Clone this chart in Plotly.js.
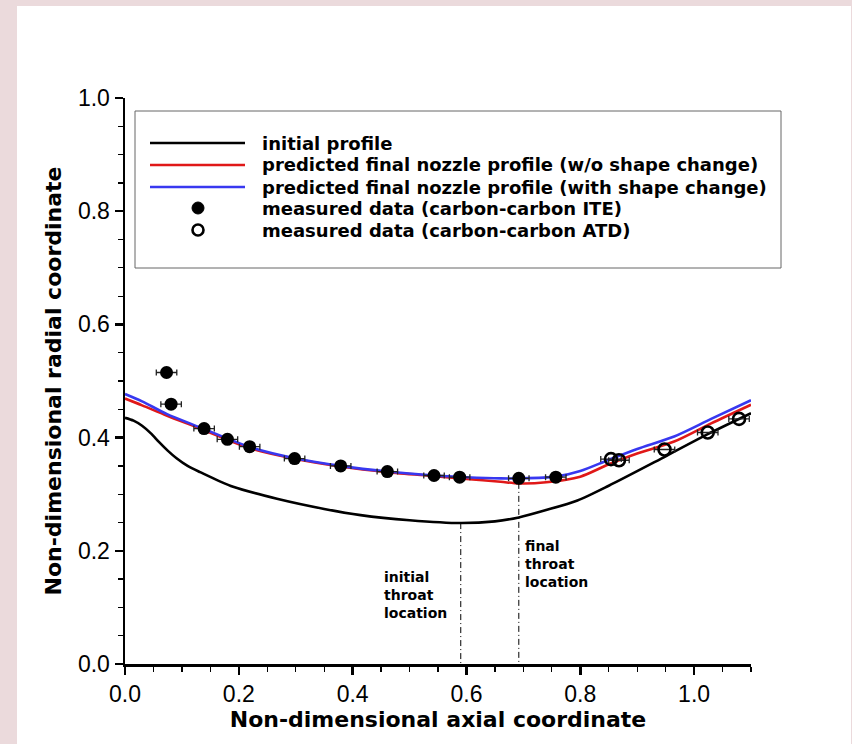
<!DOCTYPE html>
<html>
<head>
<meta charset="utf-8">
<script src="https://cdn.plot.ly/plotly-3.0.1.min.js"></script>
<style>html,body{margin:0;padding:0;}#chart{width:852px;height:744px;}</style>
</head>
<body>
<div id="chart"></div>
<script>
// ---- data ----
const initialX = [0.0, 0.015, 0.03, 0.045, 0.06, 0.075, 0.09, 0.11, 0.132, 0.19, 0.267, 0.35, 0.414, 0.5, 0.59, 0.65, 0.692, 0.74, 0.795, 0.85, 0.95, 1.024, 1.1];
const initialY = [0.435, 0.430, 0.421, 0.408, 0.392, 0.377, 0.364, 0.350, 0.339, 0.313, 0.292, 0.274, 0.263, 0.254, 0.249, 0.252, 0.259, 0.272, 0.289, 0.315, 0.367, 0.406, 0.443];

const noShapeX = [0.0, 0.03, 0.073, 0.132, 0.22, 0.296, 0.379, 0.461, 0.543, 0.6, 0.66, 0.692, 0.74, 0.8, 0.848, 0.9, 0.965, 1.03, 1.1];
const noShapeY = [0.469, 0.457, 0.439, 0.416, 0.381, 0.363, 0.349, 0.339, 0.332, 0.327, 0.322, 0.319, 0.321, 0.331, 0.352, 0.372, 0.393, 0.425, 0.458];

const shapeX = [0.0, 0.03, 0.073, 0.132, 0.22, 0.296, 0.379, 0.461, 0.543, 0.6, 0.66, 0.692, 0.757, 0.8, 0.848, 0.9, 0.965, 1.03, 1.1];
const shapeY = [0.477, 0.464, 0.442, 0.418, 0.383, 0.364, 0.350, 0.340, 0.333, 0.330, 0.328, 0.328, 0.331, 0.341, 0.360, 0.380, 0.402, 0.433, 0.466];

const iteX = [0.073, 0.081, 0.139, 0.180, 0.219, 0.298, 0.379, 0.461, 0.543, 0.588, 0.692, 0.757];
const iteY = [0.515, 0.459, 0.416, 0.397, 0.384, 0.363, 0.350, 0.340, 0.333, 0.330, 0.328, 0.330];
const iteErr = [0.018, 0.018, 0.018, 0.018, 0.018, 0.018, 0.018, 0.018, 0.018, 0.018, 0.018, 0.018];

const atdX = [0.854, 0.868, 0.948, 1.024, 1.079];
const atdY = [0.362, 0.360, 0.379, 0.409, 0.433];
const atdErr = [0.018, 0.018, 0.018, 0.018, 0.018];

const initialThroatX = [0.59, 0.59];
const initialThroatY = [0.249, 0.0];
const finalThroatX = [0.692, 0.692];
const finalThroatY = [0.320, 0.0];

const legendLabels = [
  "initial profile",
  "predicted final nozzle profile (w/o shape change)",
  "predicted final nozzle profile (with shape change)",
  "measured data (carbon-carbon ITE)",
  "measured data (carbon-carbon ATD)"
];
const xTickVals = [0, 0.2, 0.4, 0.6, 0.8, 1.0];
const yTickVals = [0, 0.2, 0.4, 0.6, 0.8, 1.0];

// ---- layout helpers (pixel -> paper) ----
const L = 125, R = 751, T = 98, B = 664;
const px = x => (x - L) / (R - L);
const py = y => (B - y) / (B - T);

const RED = '#e01818', BLUE = '#3838f0';
const TITLEFONT = {family: 'DejaVu Sans', size: 22, color: '#000', weight: 'bold'};
const LEGFONT = {family: 'DejaVu Sans', size: 18, color: '#000', weight: 'bold'};
const NOTEFONT = {family: 'DejaVu Sans', size: 14, color: '#000', weight: 'bold'};

const traces = [
  {x: initialX, y: initialY, mode: 'lines', line: {color: '#000', width: 2.6, shape: 'spline', smoothing: 0.8}, showlegend: false},
  {x: noShapeX, y: noShapeY, mode: 'lines', line: {color: RED, width: 2.6, shape: 'spline', smoothing: 0.8}, showlegend: false},
  {x: shapeX, y: shapeY, mode: 'lines', line: {color: BLUE, width: 2.6, shape: 'spline', smoothing: 0.8}, showlegend: false},
  {x: initialThroatX, y: initialThroatY, mode: 'lines', line: {color: '#000', width: 1, dash: '6px,3px,1px,3px'}, showlegend: false},
  {x: finalThroatX, y: finalThroatY, mode: 'lines', line: {color: '#000', width: 1, dash: '6px,3px,1px,3px'}, showlegend: false},
  {x: iteX, y: iteY, mode: 'markers', marker: {color: '#000', size: 13, symbol: 'circle'},
   error_x: {type: 'data', array: iteErr, visible: true, color: '#222', thickness: 1.3, width: 3}, showlegend: false},
  {x: atdX, y: atdY, mode: 'markers', marker: {color: '#000', size: 12, symbol: 'circle-open', line: {width: 2.6, color: '#000'}},
   error_x: {type: 'data', array: atdErr, visible: true, color: '#222', thickness: 1.3, width: 3}, showlegend: false}
];

const shapes = [
  // white panel on pink slide background
  {type: 'rect', xref: 'paper', yref: 'paper', x0: px(17), x1: px(851), y0: py(6), y1: py(760),
   fillcolor: '#ffffff', line: {width: 0}, layer: 'below'},
  // legend box
  {type: 'rect', xref: 'paper', yref: 'paper', x0: px(135), x1: px(781), y0: py(111), y1: py(268),
   fillcolor: '#ffffff', line: {color: '#666', width: 1}, layer: 'above'}
];
const rowY = [143, 165, 187, 208, 230];
const lineColors = ['#000', RED, BLUE];
for (let i = 0; i < 3; i++) {
  shapes.push({type: 'line', xref: 'paper', yref: 'paper', x0: px(150), x1: px(245), y0: py(rowY[i]), y1: py(rowY[i]),
    line: {color: lineColors[i], width: 2.6}, layer: 'above'});
}
// legend marker symbols (filled / open circle)
shapes.push({type: 'circle', xref: 'paper', yref: 'paper', x0: px(192), x1: px(204), y0: py(rowY[3] - 6), y1: py(rowY[3] + 6),
  fillcolor: '#000', line: {color: '#000', width: 1}, layer: 'above'});
shapes.push({type: 'circle', xref: 'paper', yref: 'paper', x0: px(192.5), x1: px(203.5), y0: py(rowY[4] - 5.5), y1: py(rowY[4] + 5.5),
  fillcolor: 'rgba(0,0,0,0)', line: {color: '#000', width: 2.6}, layer: 'above'});

const annotations = legendLabels.map((t, i) => ({
  xref: 'paper', yref: 'paper', x: px(260), y: py(rowY[i]), xanchor: 'left', yanchor: 'middle',
  text: t, showarrow: false, font: LEGFONT
}));
annotations.push({xref: 'paper', yref: 'paper', x: px(382), y: py(595), xanchor: 'left', yanchor: 'middle', align: 'left',
  text: 'initial<br>throat<br>location', showarrow: false, font: NOTEFONT});
annotations.push({xref: 'paper', yref: 'paper', x: px(523), y: py(564), xanchor: 'left', yanchor: 'middle', align: 'left',
  text: 'final<br>throat<br>location', showarrow: false, font: NOTEFONT});

const TICKFONT = {family: 'Liberation Sans, Arial, Helvetica, sans-serif', size: 23, color: '#000'};
function makeAxis(extra) {
  return Object.assign({
    showline: true, linecolor: '#000', linewidth: 2.5, mirror: false,
    ticks: 'outside', ticklen: 8, tickwidth: 2.5, tickcolor: '#000',
    showgrid: false, zeroline: false, fixedrange: true,
    tickfont: Object.assign({}, TICKFONT),
    minor: {dtick: 0.05, ticks: 'outside', ticklen: 5, tickwidth: 1.2, tickcolor: '#000', showgrid: false}
  }, extra);
}

const layout = {
  width: 852, height: 744,
  margin: {l: L, r: 852 - R, t: T, b: 744 - B, pad: 0},
  paper_bgcolor: '#ebdadc', plot_bgcolor: '#ffffff',
  showlegend: false,
  xaxis: makeAxis({
    range: [0, 1.1], tickmode: 'array', tickvals: xTickVals, ticktext: xTickVals.map(v => v.toFixed(1)),
    title: {text: 'Non-dimensional axial coordinate', font: TITLEFONT, standoff: 6}
  }),
  yaxis: makeAxis({
    range: [0, 1.0], tickmode: 'array', tickvals: yTickVals, ticktext: yTickVals.map(v => v.toFixed(1)),
    title: {text: 'Non-dimensional radial coordinate', font: TITLEFONT, standoff: 10}
  }),
  shapes: shapes,
  annotations: annotations
};

Plotly.newPlot('chart', traces, layout, {staticPlot: true, displayModeBar: false});
</script>
</body>
</html>
